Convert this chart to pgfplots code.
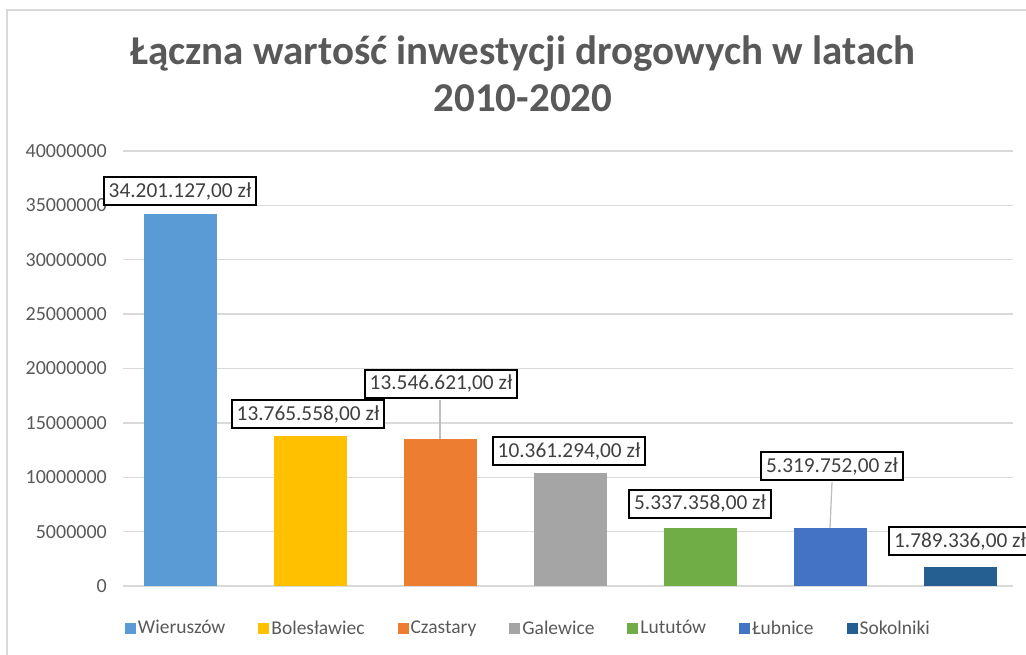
\documentclass[border=0pt]{standalone}
\usepackage{fontspec}
\setmainfont{Carlito}
\usepackage{pgfplots}
\pgfplotsset{compat=1.18}
\definecolor{cA}{HTML}{5B9BD5}
\definecolor{cB}{HTML}{FFC000}
\definecolor{cC}{HTML}{ED7D31}
\definecolor{cD}{HTML}{A5A5A5}
\definecolor{cE}{HTML}{70AD47}
\definecolor{cF}{HTML}{4472C4}
\definecolor{cG}{HTML}{255E91}
\definecolor{txtgray}{HTML}{595959}
\definecolor{lblgray}{HTML}{404040}
\definecolor{gridgray}{HTML}{D9D9D9}
\definecolor{leadgray}{HTML}{BFBFBF}
\pgfplotsset{sq legend/.style={legend image code/.code={\fill[##1] (0pt,-5.5pt) rectangle (11pt,5.5pt);}}}
\begin{document}
\begin{tikzpicture}[x=1pt,y=1pt]
\useasboundingbox (0,0) rectangle (1026,655);
\draw[line width=2pt, gridgray] (7,0) -- (7,645) -- (1030,645);
\node[anchor=base, font=\fontsize{41}{49}\selectfont\bfseries, text=txtgray] at (523,590) {Łączna wartość inwestycji drogowych w latach};
\node[anchor=base, font=\fontsize{41}{49}\selectfont\bfseries, text=txtgray] at (523,543) {2010-2020};
\begin{axis}[
  at={(123pt,69pt)}, anchor=south west,
  scale only axis, width=890pt, height=435pt,
  xmin=-0.4385, xmax=6.4077, ymin=0, ymax=40000000,
  scaled y ticks=false,
  ytick={0,5000000,10000000,15000000,20000000,25000000,30000000,35000000,40000000},
  yticklabels={0,5000000,10000000,15000000,20000000,25000000,30000000,35000000,40000000},
  yticklabel style={font=\fontsize{20}{24}\selectfont, text=txtgray, inner xsep=0pt, xshift=-16pt},
  xtick=\empty,
  axis line style={draw=none},
  major tick length=0pt,
  ymajorgrids, grid style={gridgray, line width=1.3pt},
  ybar, bar width=73pt, bar shift=0pt,
  clip=false,
  point meta=explicit symbolic,
  nodes near coords={\pgfplotspointmeta},
  every node near coord/.style={anchor=south, draw=black, line width=2pt, fill=white, text=lblgray,
     font=\fontsize{21.3}{25}\selectfont, inner xsep=5pt, inner ysep=0pt, minimum height=28pt},
  legend style={at={(0.4556,-0.0966)}, anchor=center, draw=none, fill=none,
     font=\fontsize{19.5}{23}\selectfont, text=txtgray, legend columns=-1,
     /tikz/every even column/.append style={column sep=31pt}},
]
\addplot[fill=cA, draw=none, sq legend, every node near coord/.append style={yshift=8pt}] coordinates {(0,34201127) [34.201.127,00 zł]};
\addlegendentry{Wieruszów}
\addplot[fill=cB, draw=none, sq legend, every node near coord/.append style={yshift=7pt, xshift=-2pt}] coordinates {(1,13765558) [13.765.558,00 zł]};
\addlegendentry{Bolesławiec}
\addplot[fill=cC, draw=none, sq legend, every node near coord/.append style={yshift=40pt, xshift=1pt}] coordinates {(2,13546621) [13.546.621,00 zł]};
\addlegendentry{Czastary}
\addplot[fill=cD, draw=none, sq legend, every node near coord/.append style={yshift=7pt, xshift=-1pt}] coordinates {(3,10361294) [10.361.294,00 zł]};
\addlegendentry{Galewice}
\addplot[fill=cE, draw=none, sq legend, every node near coord/.append style={yshift=9pt}] coordinates {(4,5337358) [5.337.358,00 zł]};
\addlegendentry{Lututów}
\addplot[fill=cF, draw=none, sq legend, every node near coord/.append style={yshift=47pt, xshift=2pt}] coordinates {(5,5319752) [5.319.752,00 zł]};
\addlegendentry{Łubnice}
\addplot[fill=cG, draw=none, sq legend, every node near coord/.append style={yshift=10.5pt}] coordinates {(6,1789336) [1.789.336,00 zł]};
\addlegendentry{Sokolniki}
\draw[leadgray, line width=1.3pt] (axis cs:2,13546621) -- ++(0pt,39pt);
\draw[leadgray, line width=1.3pt] (axis cs:5,5319752) -- ++(2pt,46pt);
\end{axis}
\end{tikzpicture}
\end{document}
